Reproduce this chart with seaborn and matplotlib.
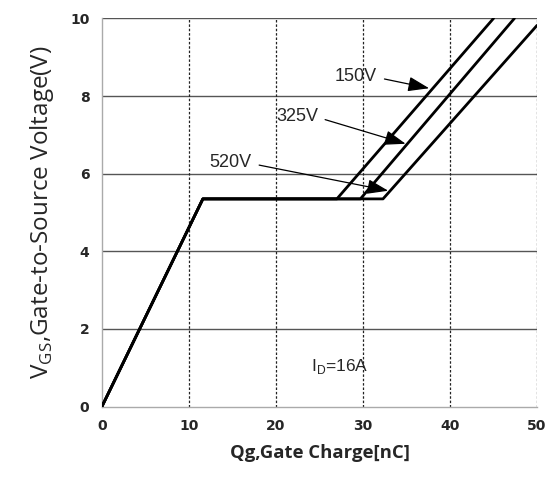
import pandas as pd
import matplotlib
matplotlib.use('Agg')
import matplotlib.pyplot as plt
import seaborn as sns

# gate charge curves (Qg in nC, Vgs in V)
qg_150 = [0, 11.6, 27.0, 45.0]
vgs_150 = [0, 5.35, 5.35, 10.0]
qg_325 = [0, 11.6, 29.7, 47.4]
vgs_325 = [0, 5.35, 5.35, 10.0]
qg_520 = [0, 11.6, 32.3, 50.0]
vgs_520 = [0, 5.35, 5.35, 9.82]
series = ['150V', '325V', '520V']

x_ticks = [0, 10, 20, 30, 40, 50]
y_ticks = [0, 2, 4, 6, 8, 10]

# label text position and arrow tip, in data coords
label_xy = {'150V': (29.2, 8.5), '325V': (22.4, 7.47), '520V': (14.8, 6.28)}
arrow_tip = {'150V': (37.6, 8.2), '325V': (34.9, 6.77), '520V': (32.9, 5.56)}


def build_frame():
    frames = []
    for name, q, v in zip(series, [qg_150, qg_325, qg_520], [vgs_150, vgs_325, vgs_520]):
        frames.append(pd.DataFrame({'qg': q, 'vgs': v, 'bias': name}))
    return pd.concat(frames, ignore_index=True)


def main():
    sns.set_style('white')
    plt.rcParams['font.family'] = ['Open Sans', 'DejaVu Sans']
    df = build_frame()

    fig = plt.figure(figsize=(5.6, 4.84), dpi=100)
    ax = fig.add_axes([0.182, 0.160, 0.777, 0.802])

    for name in series:
        sub = df[df['bias'] == name]
        sns.lineplot(data=sub, x='qg', y='vgs', sort=False, estimator=None,
                     color='black', linewidth=2.0, ax=ax, zorder=3)

    ax.set_xlim(0, 50)
    ax.set_ylim(0, 10)
    ax.set_xticks(x_ticks)
    ax.set_yticks(y_ticks)

    # horizontal grid solid gray, vertical grid dashed black
    for y in y_ticks[1:]:
        ax.axhline(y, color='#555555', linewidth=1.0, zorder=1)
    for x in x_ticks[1:]:
        ax.axvline(x, color='#222222', linewidth=0.9, linestyle=(0, (2, 1.5)), zorder=1)

    for side in ['top', 'right']:
        ax.spines[side].set_visible(False)
    for side in ['left', 'bottom']:
        ax.spines[side].set_color('#aaaaaa')
        ax.spines[side].set_linewidth(1.0)

    ax.tick_params(axis='both', direction='out', length=5, width=1.0,
                   color='#888888', labelsize=10, pad=4)
    for lbl in ax.get_xticklabels() + ax.get_yticklabels():
        lbl.set_fontweight('bold')
        lbl.set_family(['DejaVu Sans'])

    ax.set_xlabel('Qg,Gate Charge[nC]', fontsize=13.3, fontweight='bold', labelpad=8)
    ax.set_ylabel('V$_{\\mathregular{GS}}$,Gate-to-Source Voltage(V)', fontsize=17.5, labelpad=10)

    for name in series:
        ax.annotate(name, xy=arrow_tip[name], xytext=label_xy[name],
                    ha='center', va='center', fontsize=13, family=['Liberation Sans'],
                    arrowprops=dict(arrowstyle='-|>,head_length=1.0,head_width=0.35',
                                    color='black', linewidth=0.9, relpos=(1.0, 0.45),
                                    shrinkA=3, shrinkB=0), zorder=4)

    ax.text(24.0, 1.02, 'I$_{\\mathregular{D}}$=16A', fontsize=12.5,
            family=['Liberation Sans'], ha='left', va='center')

    fig.savefig('out.png', dpi=100)
    plt.close(fig)


if __name__ == '__main__':
    main()
